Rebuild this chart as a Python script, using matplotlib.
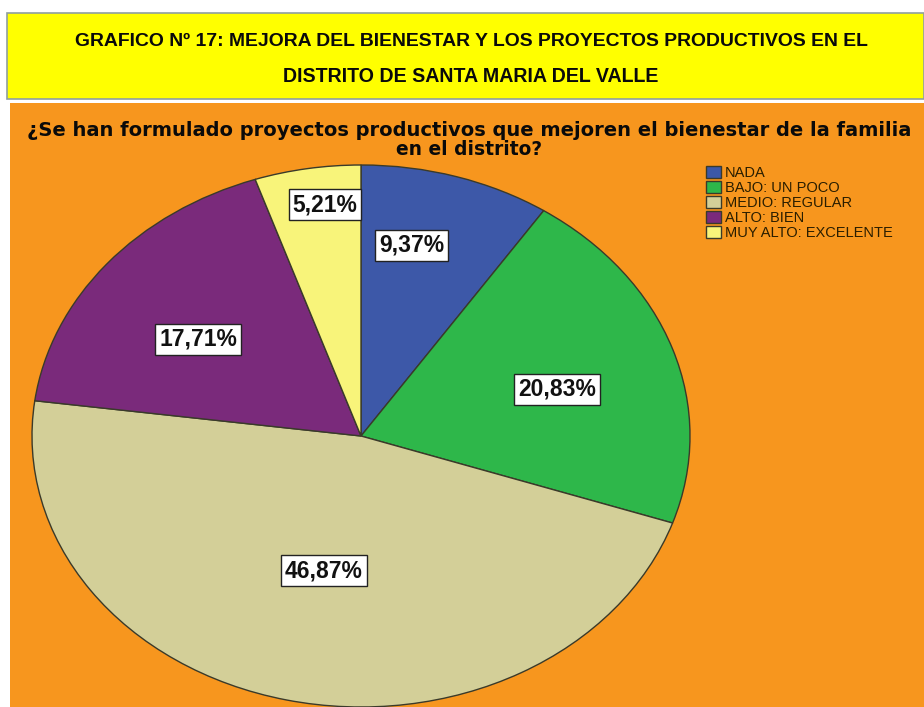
import numpy as np
import matplotlib.pyplot as plt
from matplotlib.patches import Rectangle

# --- Data ---
CATEGORIES = ['NADA', 'BAJO: UN POCO', 'MEDIO: REGULAR', 'ALTO: BIEN', 'MUY ALTO: EXCELENTE']
PERCENTS = [9.37, 20.83, 46.87, 17.71, 5.21]
PCT_LABELS = ['9,37%', '20,83%', '46,87%', '17,71%', '5,21%']
COLORS = ['#3D58A8', '#2EB74A', '#D3CF98', '#7A2A7B', '#F8F47A']

BANNER_1 = 'GRAFICO Nº 17: MEJORA DEL BIENESTAR Y LOS PROYECTOS PRODUCTIVOS EN EL'
BANNER_2 = 'DISTRITO DE SANTA MARIA DEL VALLE'
QUESTION_1 = '¿Se han formulado proyectos productivos que mejoren el bienestar de la familia'
QUESTION_2 = 'en el distrito?'

# label distance from centre (fraction of radius) and angle shift in degrees, per slice
LABEL_R = [0.72, 0.62, 0.51, 0.61, 0.86]
LABEL_SHIFT = [4.6, -2.7, 0.3, 3.6, -2.1]

W, H = 924, 707
ORANGE = '#F7961E'
FONT = ['Liberation Sans', 'DejaVu Sans']
WIDE = ['DejaVu Sans']

fig = plt.figure(figsize=(W / 100, H / 100), dpi=100)
fig.patch.set_facecolor('white')
renderer = fig.canvas.get_renderer()


def fx(px):
    return px / W


def fy(py):
    return 1 - py / H


def fit_text(x, y, s, width_px, size, family=FONT, va='center'):
    # scale the font so the line spans about width_px pixels
    t = fig.text(fx(x), fy(y), s, ha='center', va=va, fontsize=size,
                 fontweight='bold', family=family, color='#0a0a0a')
    w = t.get_window_extent(renderer).width
    t.set_fontsize(size * width_px / w)
    return t


# yellow banner and orange panel
fig.patches.append(Rectangle((fx(7), fy(99)), fx(924) - fx(7), fy(13) - fy(99),
                             transform=fig.transFigure, facecolor='#FFFF00',
                             edgecolor='#8F9F9F', linewidth=1.2, zorder=-10))
fig.patches.append(Rectangle((fx(10), 0), 1 - fx(10), fy(103),
                             transform=fig.transFigure, facecolor=ORANGE,
                             edgecolor='none', zorder=-10))

fit_text(471, 42, BANNER_1, 795, 14)
fit_text(471, 76, BANNER_2, 377, 14)

fit_text(469, 136.5, QUESTION_1, 890, 14, family=WIDE, va='baseline')
fit_text(469, 155, QUESTION_2, 146, 14, family=WIDE, va='baseline')

# pie axes: stretched circle -> ellipse
cx, cy, rx, ry = 361, 436, 329, 271
ax = fig.add_axes([fx(cx - rx), fy(cy + ry), 2 * rx / W, 2 * ry / H])
wedges, _ = ax.pie(PERCENTS, colors=COLORS, startangle=90, counterclock=False,
                   wedgeprops=dict(edgecolor='#3a3a2a', linewidth=1.0))
ax.set_aspect('auto')
ax.set_xlim(-1, 1)
ax.set_ylim(-1, 1)
ax.axis('off')

for w, lab, r, sh in zip(wedges, PCT_LABELS, LABEL_R, LABEL_SHIFT):
    mid = np.deg2rad((w.theta1 + w.theta2) / 2 + sh)
    ax.text(r * np.cos(mid), r * np.sin(mid), lab, ha='center', va='center',
            fontsize=16.5, fontweight='bold', family=FONT, color='#111111',
            bbox=dict(boxstyle='square,pad=0.17', facecolor='white',
                      edgecolor='#222222', linewidth=1.0))

# legend
leg = fig.legend(wedges, CATEGORIES, loc='upper left',
                 bbox_to_anchor=(fx(706), fy(166)), frameon=False,
                 prop=dict(family=FONT, size=10.5),
                 handlelength=1.0, handleheight=0.8, handletextpad=0.3,
                 labelspacing=0.07, borderpad=0, borderaxespad=0)
for t in leg.get_texts():
    t.set_color('#2a1e00')

fig.savefig('out.png', dpi=100, facecolor=fig.get_facecolor())
